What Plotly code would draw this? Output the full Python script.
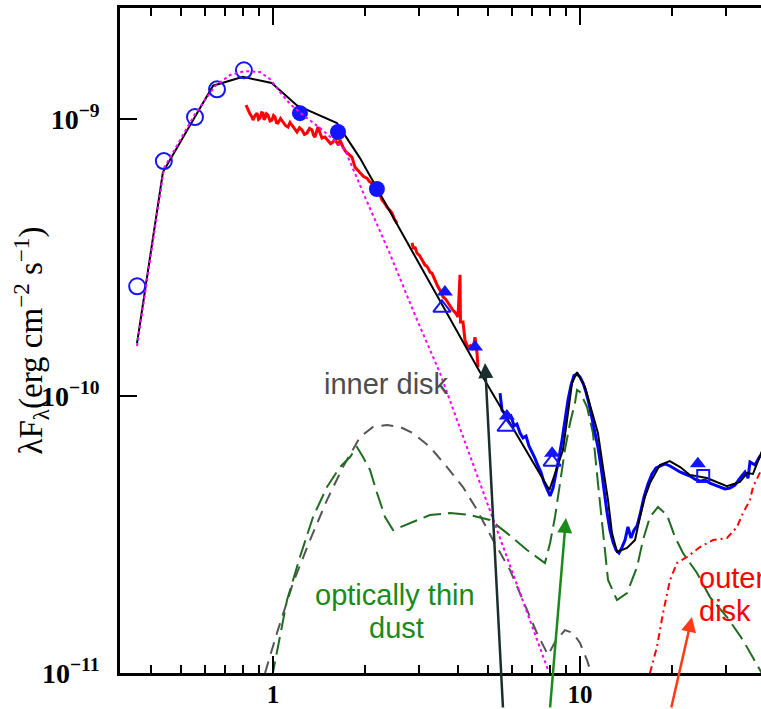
import numpy as np
import plotly.graph_objects as go

UNIT = 1e-10  # flux values below are in units of 1e-10 erg cm^-2 s^-1

# ---------------- photometry ----------------
open_circ_wl = [0.361, 0.441, 0.557, 0.657, 0.804]
open_circ_f = [2.49, 7.05, 10.17, 12.8, 15.0]

fill_circ_wl = [1.224, 1.628, 2.18]
fill_circ_f = [10.5, 8.98, 5.59]

fill_tri_wl = [3.63, 4.55, 5.78, 8.11, 24.2]
fill_tri_f = [2.374, 1.503, 0.847, 0.622, 0.569]

open_tri_wl = [3.55, 5.74, 8.11]
open_tri_f = [2.08, 0.773, 0.578]

open_sq_wl = [25.2]
open_sq_f = [0.514]

# ---------------- near-IR spectrum (red) ----------------
nir_wl = [0.817, 0.829, 0.841, 0.854, 0.861, 0.874, 0.887, 0.897, 0.907, 0.918,
          0.928, 0.935, 0.942, 0.952, 0.963, 0.978, 0.992, 1.004, 1.015, 1.027,
          1.038, 1.058, 1.078, 1.098, 1.119, 1.136, 1.153, 1.175, 1.197, 1.220,
          1.243, 1.266, 1.290, 1.315, 1.340, 1.355, 1.370, 1.386, 1.402, 1.423,
          1.444, 1.477, 1.511, 1.540, 1.568, 1.592, 1.616, 1.635, 1.653, 1.672,
          1.690, 1.722, 1.755, 1.781, 1.808, 1.828, 1.849, 1.885, 1.920, 1.972,
          2.024, 2.062, 2.101, 2.141, 2.182, 2.223, 2.265, 2.308, 2.351, 2.396,
          2.441, 2.487, 2.534, None,
          2.837, 2.869, 2.901, 2.945, 3.000, 3.057, 3.092, 3.127, 3.162, 3.198,
          3.246, 3.295, 3.332, 3.370, 3.434, 3.499, 3.539, 3.579, 3.647, 3.715,
          3.786, 3.857, 3.930, 4.005, 4.066, 4.08, 4.158, 4.221, 4.317, 4.40,
          4.482, 4.550, 4.619, 4.653]
nir_f = [11.23, 10.78, 10.45, 10.17, 9.92, 10.30, 10.51, 9.98, 10.08, 10.55,
         10.51, 9.95, 10.08, 10.45, 10.34, 9.85, 9.92, 10.30, 10.17, 9.70,
         9.67, 10.05, 9.75, 9.48, 9.36, 9.72, 9.51, 9.20, 8.98, 9.30,
         9.13, 8.80, 8.90, 9.25, 9.13, 8.75, 8.61, 9.00, 9.36, 8.90,
         8.54, 8.62, 8.40, 8.15, 8.26, 8.48, 8.19, 8.05, 8.40, 8.10,
         7.93, 7.65, 7.54, 7.40, 7.29, 6.95, 6.71, 6.55, 6.39, 6.20,
         6.12, 5.95, 5.87, 5.80, 5.68, 5.40, 5.10, 4.98, 4.81, 4.70,
         4.58, 4.35, 4.21, None,
         3.57, 3.40, 3.45, 3.28, 3.22, 3.10, 3.05, 2.97, 2.95, 2.90,
         2.80, 2.78, 2.70, 2.62, 2.50, 2.41, 2.35, 2.28, 2.24, 2.17,
         2.10, 2.04, 2.00, 1.93, 2.74, 1.85, 1.85, 1.59, 1.50, 1.52,
         1.47, 1.63, 1.43, 1.27]

# ---------------- mid-IR spectrum (blue) ----------------
irs_wl = [5.49, 5.57, 5.70, 5.83, 5.96, 6.10, 6.23, 6.38, 6.52, 6.67, 6.82, 6.98,
          7.13, 7.30, 7.46, 7.63, 7.81, 7.99, 8.17, 8.35, 8.54, 8.74, 8.93, 9.14,
          9.35, 9.56, 9.78, 10.0, 10.23, 10.46, 10.70, 10.94, 11.19, 11.44, 11.70,
          11.97, 12.24, 12.52, 12.81, 13.10, 13.40, 13.70, 14.02, 14.33, 14.66,
          14.99, 15.34, 15.68, 16.16, 16.65, 17.16, 17.69, 18.22, 18.92, 19.65,
          20.39, 21.17, 21.98, 22.82, 23.69, 24.60, 25.54, 26.51, 27.53, 28.58,
          29.67, 30.81, 31.98, 33.20, 34.47, 35.26, 35.79, 37.15, 38.57]
irs_f = [1.025, 0.890, 0.861, 0.833, 0.847, 0.780, 0.792, 0.735, 0.706, 0.717, 0.660, 0.627,
         0.597, 0.559, 0.532, 0.489, 0.458, 0.436, 0.465, 0.523, 0.597, 0.694, 0.819, 0.967,
         1.096, 1.185, 1.20, 1.172, 1.114, 1.034, 0.936, 0.833, 0.742, 0.654, 0.559,
         0.458, 0.381, 0.328, 0.297, 0.278, 0.271, 0.284, 0.302, 0.337, 0.307,
         0.328, 0.340, 0.372, 0.432, 0.481, 0.523, 0.550, 0.559, 0.569, 0.559,
         0.545, 0.532, 0.523, 0.514, 0.501, 0.493, 0.497, 0.485, 0.477, 0.469,
         0.462, 0.465, 0.477, 0.505, 0.532, 0.505, 0.578, 0.564, 0.607]

# ---------------- total model (black) ----------------
model_wl = [0.3606, 0.438, 0.557, 0.638, 0.798, 0.99, 1.197, 1.616, 1.92, 4.72,
            7.95, 8.80, 9.42, 9.78, 10.38, 11.44, 11.88, 12.34, 12.71, 13.2,
            14.23, 15.11, 15.68, 16.28, 16.9, 18.2, 19.6, 21.2, 22.8, 25.9,
            30.1, 33.2, 35.0, 36.6, 38.9, 40.0]
model_f = [1.55, 6.44, 10.2, 13.2, 14.2, 13.5, 11.2, 9.67, 7.23, 1.22,
           0.458, 0.638, 1.114, 1.22, 1.078, 0.735, 0.554, 0.421, 0.320, 0.2734,
           0.2827, 0.302, 0.3658, 0.432, 0.485, 0.5636, 0.582, 0.554, 0.519, 0.506,
           0.473, 0.4893, 0.527, 0.523, 0.623, 0.66]

# ---------------- stellar photosphere (magenta dotted) ----------------
star_wl = [0.3606, 0.4416, 0.557, 0.647, 0.7244, 0.8105, 0.9071, 0.978, 1.054, 1.136,
           1.252, 1.423, 1.592, 1.716, 1.994, 2.405, 2.901, 3.499, 4.221, 5.09,
           6.14, 7.13, 7.87]
star_f = [1.515, 6.655, 10.42, 13.15, 14.42, 14.90, 14.78, 13.94, 12.52, 11.33,
          10.34, 9.28, 8.33, 7.73, 5.23, 3.255, 1.961, 1.211, 0.682, 0.3844,
          0.2166, 0.1372, 0.1025]

# ---------------- optically thin dust (green dashed) ----------------
dust_wl = [0.99, 1.111, 1.224, 1.350, 1.499, 1.653, 1.782, 1.877, 1.964, 2.07,
           2.182, 2.317, 2.46, 2.795, 3.246, 3.772, 4.383, 5.09, 5.783, 6.72,
           7.69, 7.99, 8.29, 8.61, 8.93, 9.28, 9.63, 9.78, 10.0, 10.54,
           11.02, 11.44, 11.88, 12.34, 13.2, 14.23, 15.34, 16.04, 16.9, 17.95,
           19.2, 20.39, 21.65, 24.05, 26.51, 30.12, 33.95, 35.79, 38.0, 40.1]
dust_f = [0.095, 0.1834, 0.2623, 0.3658, 0.4693, 0.554, 0.602, 0.6544, 0.602, 0.541,
          0.4465, 0.3658, 0.328, 0.3479, 0.372, 0.378, 0.372, 0.357, 0.320, 0.278,
          0.2495, 0.2946, 0.3658, 0.485, 0.638, 0.799, 0.943, 1.051, 1.034, 0.913,
          0.735, 0.485, 0.320, 0.2168, 0.1834, 0.1944, 0.2414, 0.302, 0.3658, 0.3975,
          0.372, 0.3097, 0.2711, 0.2296, 0.188, 0.1593, 0.1315, 0.1181, 0.1051, 0.095]

# ---------------- inner disk (grey dashed) ----------------
inner_wl = [0.942, 1.030, 1.162, 1.320, 1.499, 1.690, 1.92, 2.117, 2.351, 2.593,
            2.858, 3.246, 3.688, 4.158, 4.619, 5.208, 5.916, 6.52, 7.24, 7.87,
            8.29, 8.93, 9.49, 10.0, 10.54, 10.86, 11.0]
inner_f = [0.1, 0.1394, 0.2113, 0.302, 0.421, 0.554, 0.711, 0.773, 0.786, 0.773,
           0.735, 0.6544, 0.554, 0.4693, 0.388, 0.302, 0.2353, 0.1834, 0.1394, 0.1161,
           0.1294, 0.1429, 0.1394, 0.1283, 0.1114, 0.1, 0.094]

# ---------------- outer disk (red dash-dot) ----------------
outer_wl = [16.9, 17.81, 18.64, 19.65, 20.7, 22.31, 24.6, 27.12, 30.12, 32.46,
            33.95, 35.79, 36.6, 38.9, 40.1]
outer_f = [0.1, 0.1241, 0.1646, 0.2168, 0.2495, 0.2623, 0.285, 0.302, 0.3072, 0.3366,
           0.378, 0.421, 0.4693, 0.541, 0.578]

# axis ticks
x_major = [1, 10]
x_major_text = ["1", "10"]
x_minor = [0.4, 0.5, 0.6, 0.7, 0.8, 0.9, 2, 3, 4, 5, 6, 7, 8, 9, 20, 30]
y_major = [1e-11, 1e-10, 1e-9]
y_major_text = ["10<sup>−11</sup>", "10<sup>−10</sup>", "10<sup>−9</sup>"]


def sc(vals):
    return [None if v is None else v * UNIT for v in vals]


BLUE = "#1414ff"
fig = go.Figure()

fig.add_trace(go.Scatter(x=inner_wl, y=sc(inner_f), mode="lines",
                         line=dict(color="#555555", width=2, dash="12px,8px")))
fig.add_trace(go.Scatter(x=dust_wl, y=sc(dust_f), mode="lines",
                         line=dict(color="#1f6b1f", width=2, dash="18px,7px")))
fig.add_trace(go.Scatter(x=outer_wl, y=sc(outer_f), mode="lines",
                         line=dict(color="#ff0000", width=2, dash="7px,4px,2px,4px")))
fig.add_trace(go.Scatter(x=nir_wl, y=sc(nir_f), mode="lines", connectgaps=False,
                         line=dict(color="#ff0000", width=3)))
fig.add_trace(go.Scatter(x=irs_wl, y=sc(irs_f), mode="lines",
                         line=dict(color="#0000ff", width=3)))
fig.add_trace(go.Scatter(x=model_wl, y=sc(model_f), mode="lines",
                         line=dict(color="#000000", width=2)))

fig.add_trace(go.Scatter(x=open_circ_wl, y=sc(open_circ_f), mode="markers",
                         marker=dict(symbol="circle-open", size=16, color=BLUE,
                                     line=dict(width=2, color=BLUE))))
fig.add_trace(go.Scatter(x=fill_circ_wl, y=sc(fill_circ_f), mode="markers",
                         marker=dict(symbol="circle", size=16, color=BLUE)))
fig.add_trace(go.Scatter(x=fill_tri_wl, y=sc(fill_tri_f), mode="markers",
                         marker=dict(symbol="triangle-up", size=14, color=BLUE)))
fig.add_trace(go.Scatter(x=open_tri_wl, y=sc(open_tri_f), mode="markers",
                         marker=dict(symbol="triangle-up-open", size=15, color=BLUE,
                                     line=dict(width=2, color=BLUE))))
fig.add_trace(go.Scatter(x=open_sq_wl, y=sc(open_sq_f), mode="markers",
                         marker=dict(symbol="square-open", size=12, color=BLUE,
                                     line=dict(width=2, color=BLUE))))
fig.add_trace(go.Scatter(x=star_wl, y=sc(star_f), mode="lines",
                         line=dict(color="#ff00ff", width=2, dash="dot")))

L = np.log10
annotations = [
    # arrows
    dict(x=L(4.905), y=L(1.315e-10), ax=18, ay=352, text="", showarrow=True,
         arrowhead=2, arrowsize=1.2, arrowwidth=2.5, arrowcolor="#1a2e2e", standoff=0),
    dict(x=L(9.00), y=L(0.3628e-10), ax=-16, ay=197, text="", showarrow=True,
         arrowhead=2, arrowsize=1.2, arrowwidth=2.5, arrowcolor="#1a8a1a", standoff=0),
    dict(x=L(23.16), y=L(0.1593e-10), ax=-21, ay=98, text="", showarrow=True,
         arrowhead=2, arrowsize=1.2, arrowwidth=2.5, arrowcolor="#ff3a14", standoff=0),
    # labels
    dict(x=L(2.334), y=L(1.105e-10), text="inner disk", showarrow=False,
         font=dict(family="Liberation Sans, Arial", size=29, color="#4d4d4d")),
    dict(x=L(2.497), y=L(0.1912e-10), text="optically thin", showarrow=False,
         font=dict(family="Liberation Sans, Arial", size=29, color="#1a8a1a")),
    dict(x=L(2.52), y=L(0.1454e-10), text="dust", showarrow=False,
         font=dict(family="Liberation Sans, Arial", size=29, color="#1a8a1a")),
    dict(x=L(24.05), y=L(0.2203e-10), text="outer", showarrow=False, xanchor="left",
         font=dict(family="Liberation Sans, Arial", size=29, color="#ff0000")),
    dict(x=L(24.05), y=L(0.1674e-10), text="disk", showarrow=False, xanchor="left",
         font=dict(family="Liberation Sans, Arial", size=29, color="#ff0000")),
    # y-axis title
    dict(xref="paper", yref="paper", x=-0.1388, y=0.5, textangle=-90,
         text="λF<sub>λ</sub>(erg cm<sup>−2</sup> s<sup>−1</sup>)", showarrow=False,
         xanchor="center", yanchor="middle",
         font=dict(family="Liberation Serif, Times New Roman", size=33, color="black")),
]
for a in annotations:
    a.setdefault("xref", "x")
    a.setdefault("yref", "y")

fig.update_layout(
    width=761, height=709,
    margin=dict(l=120, r=0, t=8, b=36, autoexpand=False),
    plot_bgcolor="white", paper_bgcolor="white",
    showlegend=False,
    annotations=annotations,
)
fig.update_xaxes(
    type="log", range=[-0.4984, 1.5896], automargin=False,
    showline=True, linecolor="black", linewidth=2.5, mirror="ticks",
    ticks="inside", ticklen=17, tickwidth=2, tickcolor="black",
    tickvals=x_major, ticktext=x_major_text,
    tickfont=dict(family="Liberation Serif, Times New Roman", size=25, color="black",
                  weight="bold"),
    ticklabelstandoff=-3,
    showgrid=False, zeroline=False,
    minor=dict(tickvals=x_minor, ticks="inside", ticklen=8, tickwidth=2,
               tickcolor="black", showgrid=False),
)
fig.update_yaxes(
    type="log", range=[-11, -8.599], automargin=False,
    showline=True, linecolor="black", linewidth=2.5, mirror=False,
    ticks="inside", ticklen=17, tickwidth=2, tickcolor="black",
    tickvals=y_major, ticktext=y_major_text,
    tickfont=dict(family="Liberation Serif, Times New Roman", size=28, color="black",
                  weight="bold"),
    ticklabelstandoff=12,
    showgrid=False, zeroline=False,
)

fig.write_html("out.html")
